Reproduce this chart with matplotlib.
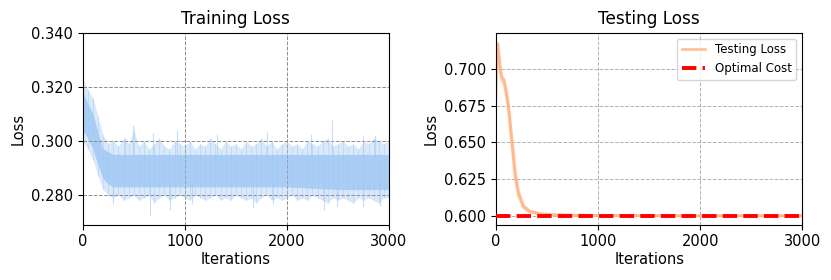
import numpy as np
import matplotlib
matplotlib.use("Agg")
import matplotlib.pyplot as plt

# ---------------- data ----------------
env_it = list(range(0, 3001, 50))
train_outer_hi = [0.323, 0.319, 0.316, 0.309, 0.302, 0.299, 0.300, 0.298, 0.301, 0.299,
                  0.304, 0.298, 0.300, 0.297, 0.299, 0.301, 0.298, 0.297, 0.300, 0.299,
                  0.298, 0.300, 0.297, 0.299, 0.298, 0.301, 0.299, 0.297, 0.300, 0.298,
                  0.299, 0.297, 0.300, 0.298, 0.299, 0.301, 0.298, 0.300, 0.297, 0.299,
                  0.300, 0.298, 0.299, 0.297, 0.300, 0.299, 0.298, 0.300, 0.301, 0.298,
                  0.299, 0.300, 0.298, 0.299, 0.297, 0.300, 0.299, 0.301, 0.300, 0.299, 0.300]
train_outer_lo = [0.300, 0.297, 0.293, 0.287, 0.282, 0.280, 0.279, 0.280, 0.278, 0.279,
                  0.280, 0.278, 0.279, 0.280, 0.277, 0.279, 0.280, 0.278, 0.279, 0.280,
                  0.279, 0.278, 0.280, 0.279, 0.278, 0.279, 0.280, 0.278, 0.279, 0.278,
                  0.280, 0.279, 0.278, 0.279, 0.277, 0.279, 0.280, 0.278, 0.279, 0.278,
                  0.279, 0.280, 0.278, 0.279, 0.278, 0.280, 0.279, 0.278, 0.277, 0.279,
                  0.278, 0.279, 0.278, 0.277, 0.279, 0.278, 0.279, 0.278, 0.277, 0.279, 0.279]
core_it = [0, 50, 100, 150, 200, 250, 300, 500, 1000, 1500, 2000, 2500, 3000]
train_core_hi = [0.318, 0.314, 0.310, 0.303, 0.297, 0.296, 0.295, 0.295, 0.295, 0.295, 0.295, 0.295, 0.295]
train_core_lo = [0.304, 0.301, 0.297, 0.291, 0.286, 0.284, 0.283, 0.283, 0.283, 0.283, 0.283, 0.282, 0.282]

spike_up_it = [414, 496, 691, 920, 1312, 1802, 2240, 2439, 2750, 2863]
spike_up_val = [0.301, 0.3057, 0.303, 0.3042, 0.3025, 0.3032, 0.3025, 0.3076, 0.302, 0.302]
spike_dn_it = [300, 659, 860, 1069, 1671, 1867, 2360, 2490, 2750, 2913]
spike_dn_val = [0.2765, 0.2723, 0.2743, 0.2765, 0.2753, 0.2765, 0.2746, 0.2755, 0.2755, 0.276]

test_it = [0, 10, 20, 40, 56, 78, 98, 121, 154, 186, 219, 268, 333, 431, 600, 1000, 2000, 3000]
test_run1 = [0.681, 0.716, 0.717, 0.702, 0.694, 0.693, 0.685, 0.675, 0.652, 0.629, 0.6155, 0.6063, 0.6029, 0.6014, 0.6006, 0.6003, 0.6001, 0.6001]
test_run2 = [0.690, 0.714, 0.713, 0.698, 0.696, 0.690, 0.683, 0.672, 0.649, 0.626, 0.6135, 0.6055, 0.6024, 0.6011, 0.6005, 0.6002, 0.6001, 0.6001]
test_run3 = [0.700, 0.718, 0.709, 0.700, 0.692, 0.691, 0.687, 0.677, 0.655, 0.632, 0.6175, 0.6073, 0.6033, 0.6016, 0.6007, 0.6003, 0.6001, 0.6001]
optimal_cost = 0.600

x_ticks = [0, 1000, 2000, 3000]
train_yticks = [0.280, 0.300, 0.320, 0.340]
test_yticks = [0.600, 0.625, 0.650, 0.675, 0.700]

blue = "#a1c9f4"
orange = "#ffb482"

fig = plt.figure(figsize=(8.31, 2.8), dpi=100)
ax1 = fig.add_axes([0.0995, 0.1975, 0.3686, 0.6857])
ax2 = fig.add_axes([0.5969, 0.1975, 0.3686, 0.6857])

# ---- Training loss ----
ax1.fill_between(env_it, train_outer_lo, train_outer_hi, color=blue, alpha=0.4, lw=0)
ax1.vlines(env_it, train_outer_lo, train_outer_hi, color=blue, lw=0.6, alpha=0.5)
ax1.fill_between(core_it, train_core_lo, train_core_hi, color=blue, alpha=0.85, lw=0)
ax1.vlines(spike_up_it, 0.294, spike_up_val, color=blue, lw=0.8, alpha=0.6)
ax1.vlines(spike_dn_it, spike_dn_val, 0.284, color=blue, lw=0.8, alpha=0.6)
ax1.set_xlim(0, 3000)
ax1.set_ylim(0.269, 0.340)
ax1.set_xticks(x_ticks)
ax1.set_yticks(train_yticks)
ax1.set_yticklabels([f"{v:.3f}" for v in train_yticks])
ax1.grid(True, linestyle="--", color="gray", lw=0.7, alpha=0.9)
ax1.set_title("Training Loss", fontsize=12.2)
ax1.set_xlabel("Iterations", fontsize=10.5, labelpad=2)
ax1.set_ylabel("Loss", fontsize=10.5)
ax1.tick_params(labelsize=10.5)

# ---- Testing loss ----
ax2.plot(test_it, test_run2, color=orange, lw=2, alpha=0.45)
ax2.plot(test_it, test_run3, color=orange, lw=2, alpha=0.45)
ax2.plot(test_it, test_run1, color=orange, lw=2, alpha=0.8, label="Testing Loss")
ax2.axhline(optimal_cost, color="red", linestyle="--", lw=2.8, label="Optimal Cost", zorder=3)
ax2.set_xlim(0, 3000)
ax2.set_ylim(0.594, 0.7247)
ax2.set_xticks(x_ticks)
ax2.set_yticks(test_yticks)
ax2.set_yticklabels([f"{v:.3f}" for v in test_yticks])
ax2.grid(True, linestyle="--", color="gray", lw=0.7, alpha=0.6)
ax2.set_title("Testing Loss", fontsize=12.2)
ax2.set_xlabel("Iterations", fontsize=10.5, labelpad=2)
ax2.set_ylabel("Loss", fontsize=10.5)
ax2.tick_params(labelsize=10.5)
ax2.legend(loc="upper right", fontsize=8.5, framealpha=0.8)

fig.savefig("out.png", dpi=100)
